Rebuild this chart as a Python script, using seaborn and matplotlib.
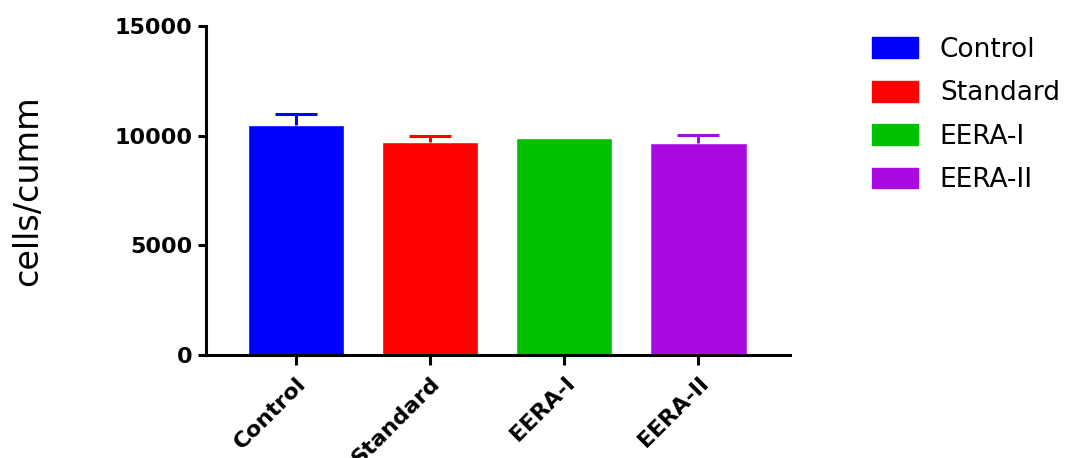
import matplotlib
matplotlib.use("Agg")
import matplotlib.pyplot as plt
import matplotlib.patches as mpatches
import seaborn as sns
import pandas as pd

# данные
groups = ["Control", "Standard", "EERA-I", "EERA-II"]
means = [10500, 9700, 9900, 9650]
sem = [500, 300, 0, 400]
colors = ["#0000FF", "#FF0000", "#00C000", "#AA0AE0"]

df = pd.DataFrame({"group": groups, "value": means})

sns.set_style("ticks")
plt.rcParams["font.family"] = ["DejaVu Sans"]
plt.rcParams["text.color"] = "black"
plt.rcParams["axes.labelcolor"] = "black"
plt.rcParams["xtick.color"] = "black"
plt.rcParams["ytick.color"] = "black"

fig = plt.figure(figsize=(10.67, 4.58), dpi=100)
ax = fig.add_axes([0.193, 0.225, 0.547, 0.718])

sns.barplot(data=df, x="group", y="value", hue="group", palette=colors,
            order=groups, hue_order=groups, width=0.72, errorbar=None,
            legend=False, saturation=1, ax=ax)

# только верхние усы, как в GraphPad
for i, (m, e, c) in enumerate(zip(means, sem, colors)):
    if e > 0:
        _, caps, _ = ax.errorbar(i, m, yerr=[[0], [e]], color=c, elinewidth=2.2,
                                 capsize=15, capthick=2.2, zorder=3)
        caps[0].set_visible(False)

ax.set_ylim(0, 15000)
ax.set_xlim(-0.67, 3.68)
ax.set_yticks([0, 5000, 10000, 15000])
ax.set_xlabel("")
ax.set_ylabel("cells/cumm", fontsize=24)
ax.yaxis.label.set_va("center")
ax.yaxis.set_label_coords(-0.306, 0.5)

sns.despine(ax=ax)
for s in ["left", "bottom"]:
    ax.spines[s].set_linewidth(2.2)
    ax.spines[s].set_color("black")
ax.tick_params(axis="y", width=2.2, length=6, pad=4)
ax.tick_params(axis="x", width=2.2, length=7, pad=6)
for lab in ax.get_yticklabels():
    lab.set_fontsize(16)
    lab.set_fontweight("bold")
ax.set_xticks(range(len(groups)))
ax.set_xticklabels(groups, rotation=45, ha="right", rotation_mode="anchor",
                   fontsize=16, fontweight="bold")

handles = [mpatches.Patch(color=c, label=g) for g, c in zip(groups, colors)]
fig.legend(handles=handles, loc="upper left", bbox_to_anchor=(872 / 1067, 1 - 37 / 458),
           frameon=False, fontsize=19, handlelength=1.74, handleheight=0.83,
           handletextpad=0.83, labelspacing=0.66, borderpad=0, borderaxespad=0)

fig.savefig("out.png", dpi=100)
